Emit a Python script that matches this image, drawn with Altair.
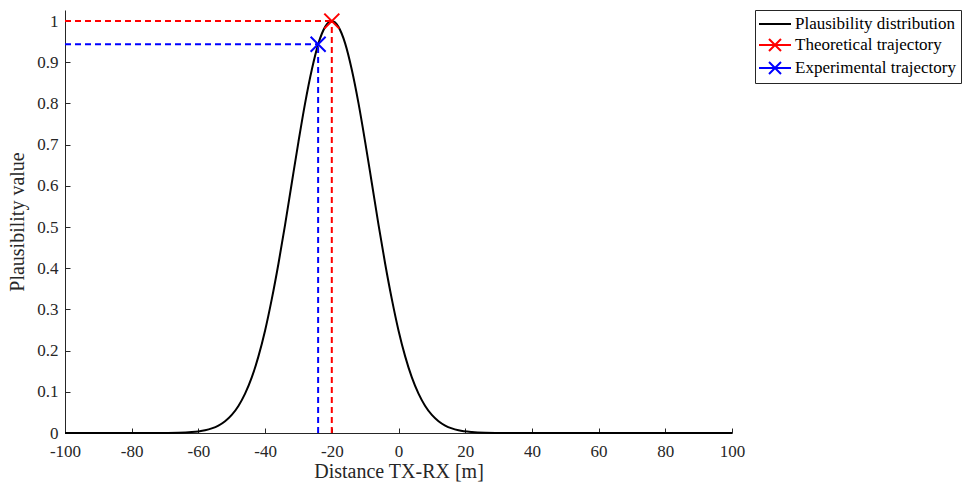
import altair as alt
import pandas as pd

# ---- data ----
dist_x = [-100, -90, -80, -75, -70, -66, -62, -60, -58, -56, -54, -52, -50, -48, -46, -44,
          -42, -40, -38, -36, -34, -32, -30, -28, -26, -24, -22, -20, -18, -16, -14, -12,
          -10, -8, -6, -4, -2, 0, 2, 4, 6, 8, 10, 12, 14, 16, 18, 22, 26, 30, 35, 40, 50,
          60, 80, 100]
dist_y = [0.0, 0.0, 0.0, 0.0, 0.0002, 0.0006, 0.0022, 0.0039, 0.0066, 0.0111, 0.018, 0.0286,
          0.0439, 0.0657, 0.0956, 0.135, 0.186, 0.249, 0.325, 0.411, 0.506, 0.607, 0.707,
          0.801, 0.882, 0.946, 0.986, 1.0, 0.986, 0.946, 0.882, 0.801, 0.707, 0.607, 0.506,
          0.411, 0.325, 0.249, 0.186, 0.135, 0.0956, 0.0657, 0.0439, 0.0286, 0.018, 0.0111,
          0.0066, 0.0022, 0.0006, 0.0002, 0.0, 0.0, 0.0, 0.0, 0.0, 0.0]

series_names = ["Plausibility distribution", "Theoretical trajectory", "Experimental trajectory"]
series_colors = ["#000000", "#ff0000", "#0000ff"]
marker_x = [-20.0, -24.1]
marker_y = [1.0, 0.944]
marker_series = ["Theoretical trajectory", "Experimental trajectory"]
marker_colors = ["#ff0000", "#0000ff"]

x_ticks = [-100, -80, -60, -40, -20, 0, 20, 40, 60, 80, 100]
y_ticks = [0, 0.1, 0.2, 0.3, 0.4, 0.5, 0.6, 0.7, 0.8, 0.9, 1.0]
x_domain = [-100, 100]
y_domain = [0, 1.027]

FONT = "Liberation Serif"
INK = "#262626"

curve_df = pd.DataFrame({"x": dist_x, "y": dist_y})
marker_df = pd.DataFrame({"x": marker_x, "y": marker_y, "series": marker_series, "c": marker_colors})

rule_rows = []
for mx, my, c in zip(marker_x, marker_y, marker_colors):
    rule_rows.append({"x1": x_domain[0], "x2": mx, "y1": my, "y2": my, "c": c})
    rule_rows.append({"x1": mx, "x2": mx, "y1": 0.0, "y2": my, "c": c})
rule_df = pd.DataFrame(rule_rows)

legend_df = pd.DataFrame({"series": series_names})

xs = alt.Scale(domain=x_domain, nice=False, zero=False)
ys = alt.Scale(domain=y_domain, nice=False, zero=False)

curve = alt.Chart(curve_df).mark_line(color="black", strokeWidth=2, interpolate="monotone").encode(
    x=alt.X("x:Q", scale=xs, axis=alt.Axis(
        title="Distance TX-RX [m]", values=x_ticks, labelExpr="'' + datum.value",
        tickSize=0, domain=True, grid=False, labelPadding=10, titlePadding=2, orient="bottom",
        labelFlush=False, labelOverlap=False)),
    y=alt.Y("y:Q", scale=ys, axis=alt.Axis(
        title="Plausibility value", values=y_ticks, format="~g",
        tickSize=0, domain=True, grid=False, labelPadding=7, titlePadding=9, orient="left",
        labelFlush=False, labelOverlap=False)),
)

rules = alt.Chart(rule_df).mark_rule(strokeWidth=2, strokeDash=[6, 4]).encode(
    x=alt.X("x1:Q", scale=xs, axis=None),
    x2="x2:Q",
    y=alt.Y("y1:Q", scale=ys, axis=None),
    y2="y2:Q",
    color=alt.Color("c:N", scale=None),
)

xpath = "M-1,-1L1,1M-1,1L1,-1"
markers = alt.Chart(marker_df).mark_point(filled=False, strokeWidth=2, size=225, shape=xpath, opacity=1).encode(
    x=alt.X("x:Q", scale=xs, axis=alt.Axis(
        orient="bottom", offset=-5, tickSize=5, domain=False, labels=False, title=None,
        grid=False, values=x_ticks)),
    y=alt.Y("y:Q", scale=ys, axis=alt.Axis(
        orient="left", offset=-5, tickSize=5, domain=False, labels=False, title=None,
        grid=False, values=y_ticks)),
    color=alt.Color("c:N", scale=None),
)

line_sym = "M-2,0L2,0"
cross_sym = "M-2,0L2,0M-0.75,-0.75L0.75,0.75M-0.75,0.75L0.75,-0.75"
leg = alt.Legend(title=None, orient="none", legendX=690, legendY=0,
                 symbolSize=256, symbolStrokeWidth=2, symbolOffset=6, labelOffset=11,
                 labelFont=FONT, labelFontSize=17, labelColor="#000000", labelLimit=400,
                 rowPadding=3, padding=5, strokeColor=INK, fillColor="white")
legend_layer = alt.Chart(legend_df).mark_point(filled=False, strokeWidth=2, clip=True).encode(
    x=alt.value(-200), y=alt.value(-200),
    color=alt.Color("series:N", scale=alt.Scale(domain=series_names, range=series_colors), legend=leg),
    shape=alt.Shape("series:N", scale=alt.Scale(domain=series_names, range=[line_sym, cross_sym, cross_sym]), legend=leg),
)

chart = alt.layer(curve, rules, markers, legend_layer).resolve_axis(
    x="independent", y="independent"
).properties(
    width=667, height=423,
    padding={"left": 65, "top": 10, "right": 230, "bottom": 55},
    autosize=alt.AutoSizeParams(type="none"),
    background="white",
).configure_view(stroke=None).configure_axis(
    labelFont=FONT, titleFont=FONT, labelFontSize=17, titleFontSize=20,
    labelColor=INK, titleColor=INK, domainColor=INK, tickColor=INK,
    titleFontWeight="normal", domainWidth=1, tickWidth=1,
)

chart.save("out.html", embed_options={"renderer": "svg", "actions": False})
